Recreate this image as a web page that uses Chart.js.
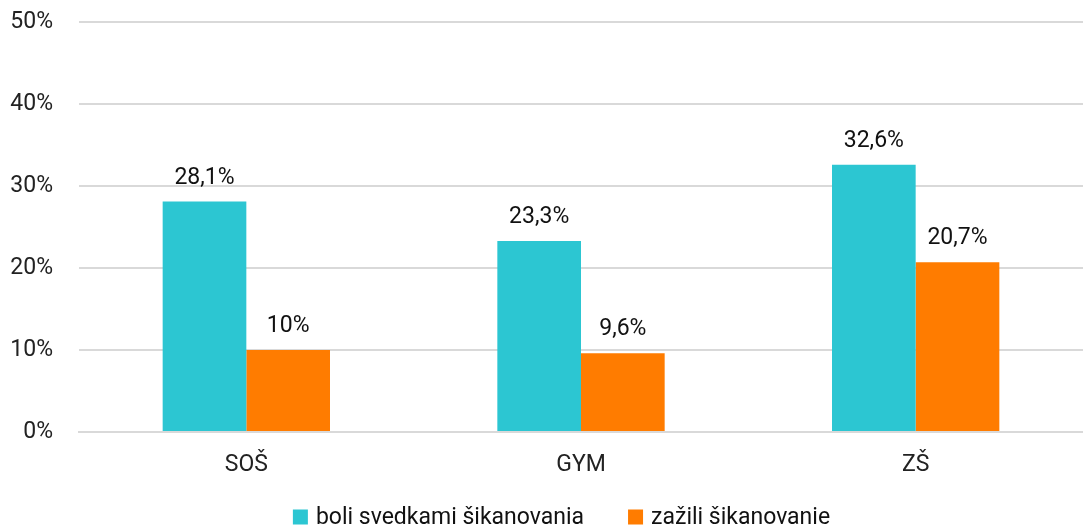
<!DOCTYPE html>
<html>
<head>
<meta charset="utf-8">
<script src="https://cdn.jsdelivr.net/npm/chart.js@4/dist/chart.umd.min.js"></script>
<style>
  html, body { margin: 0; padding: 0; background: #fff; }
  #wrap { width: 1083px; height: 526px; }
</style>
</head>
<body>
<div id="wrap"><canvas id="chart" width="1083" height="526"></canvas></div>
<script>
// skupiny škôl
const categories = ['SOŠ', 'GYM', 'ZŠ'];
// podiel žiakov v %
const svedkovia = [28.1, 23.3, 32.6];
const obete = [10, 9.6, 20.7];
const seriesNames = ['boli svedkami šikanovania', 'zažili šikanovanie'];
const yTicks = [0, 10, 20, 30, 40, 50];

const FONT = "Roboto, 'Noto Sans', sans-serif";
const SIZE = 23;
const fmt = v => String(v).replace('.', ',') + '%';

// popisky hodnôt nad stĺpcami
const valueLabels = {
  id: 'valueLabels',
  afterDatasetsDraw(chart) {
    const ctx = chart.ctx;
    ctx.save();
    ctx.font = SIZE + 'px ' + FONT;
    ctx.fillStyle = '#111';
    ctx.textAlign = 'center';
    ctx.textBaseline = 'alphabetic';
    chart.data.datasets.forEach((ds, i) => {
      chart.getDatasetMeta(i).data.forEach((bar, j) => {
        ctx.fillText(fmt(ds.data[j]), bar.x, bar.y - 18);
      });
    });
    ctx.restore();
  }
};

// legenda dole – vlastné kreslenie kvôli rozostupom
const bottomLegend = {
  id: 'bottomLegend',
  afterDraw(chart) {
    const ctx = chart.ctx;
    const box = 15, gap = 8, spacing = 44, y = 517;
    ctx.save();
    ctx.font = SIZE + 'px ' + FONT;
    ctx.textBaseline = 'middle';
    const items = chart.data.datasets.map(ds => ({
      text: ds.label, color: ds.backgroundColor,
      w: box + gap + ctx.measureText(ds.label).width
    }));
    const total = items.reduce((s, it) => s + it.w, 0) + spacing * (items.length - 1);
    let x = chart.width / 2 + 20 - total / 2;
    items.forEach(it => {
      ctx.fillStyle = it.color;
      ctx.fillRect(x, y - box / 2, box, box);
      ctx.fillStyle = '#111';
      ctx.fillText(it.text, x + box + gap, y + 1);
      x += it.w + spacing;
    });
    ctx.restore();
  }
};

const chart = new Chart(document.getElementById('chart'), {
  type: 'bar',
  data: {
    labels: categories,
    datasets: [
      { label: seriesNames[0], data: svedkovia, backgroundColor: '#2cc6d2' },
      { label: seriesNames[1], data: obete, backgroundColor: '#ff7c00' }
    ]
  },
  options: {
    responsive: false,
    animation: false,
    layout: { padding: { top: 22, right: 0, bottom: 0, left: 0 } },
    datasets: { bar: { categoryPercentage: 0.5, barPercentage: 1.0 } },
    scales: {
      x: {
        grid: { display: false },
        border: { color: '#d9d9d9', width: 2 },
        ticks: { font: { family: FONT, size: SIZE }, color: '#222', padding: 11 },
        afterFit(scale) { scale.height = 94; }
      },
      y: {
        min: 0, max: 50,
        afterBuildTicks(scale) { scale.ticks = yTicks.map(v => ({ value: v })); },
        grid: { color: '#d9d9d9', lineWidth: 2, drawTicks: false },
        border: { display: false },
        ticks: {
          font: { family: FONT, size: SIZE }, color: '#222', padding: 26,
          callback: v => v + '%'
        },
        afterFit(scale) {
          scale.width = 79;
          // horný popisok nemá posúvať plochu grafu
          scale.paddingTop = 0;
        }
      }
    },
    plugins: {
      tooltip: { enabled: false },
      legend: { display: false }
    }
  },
  plugins: [valueLabels, bottomLegend]
});
</script>
</body>
</html>
